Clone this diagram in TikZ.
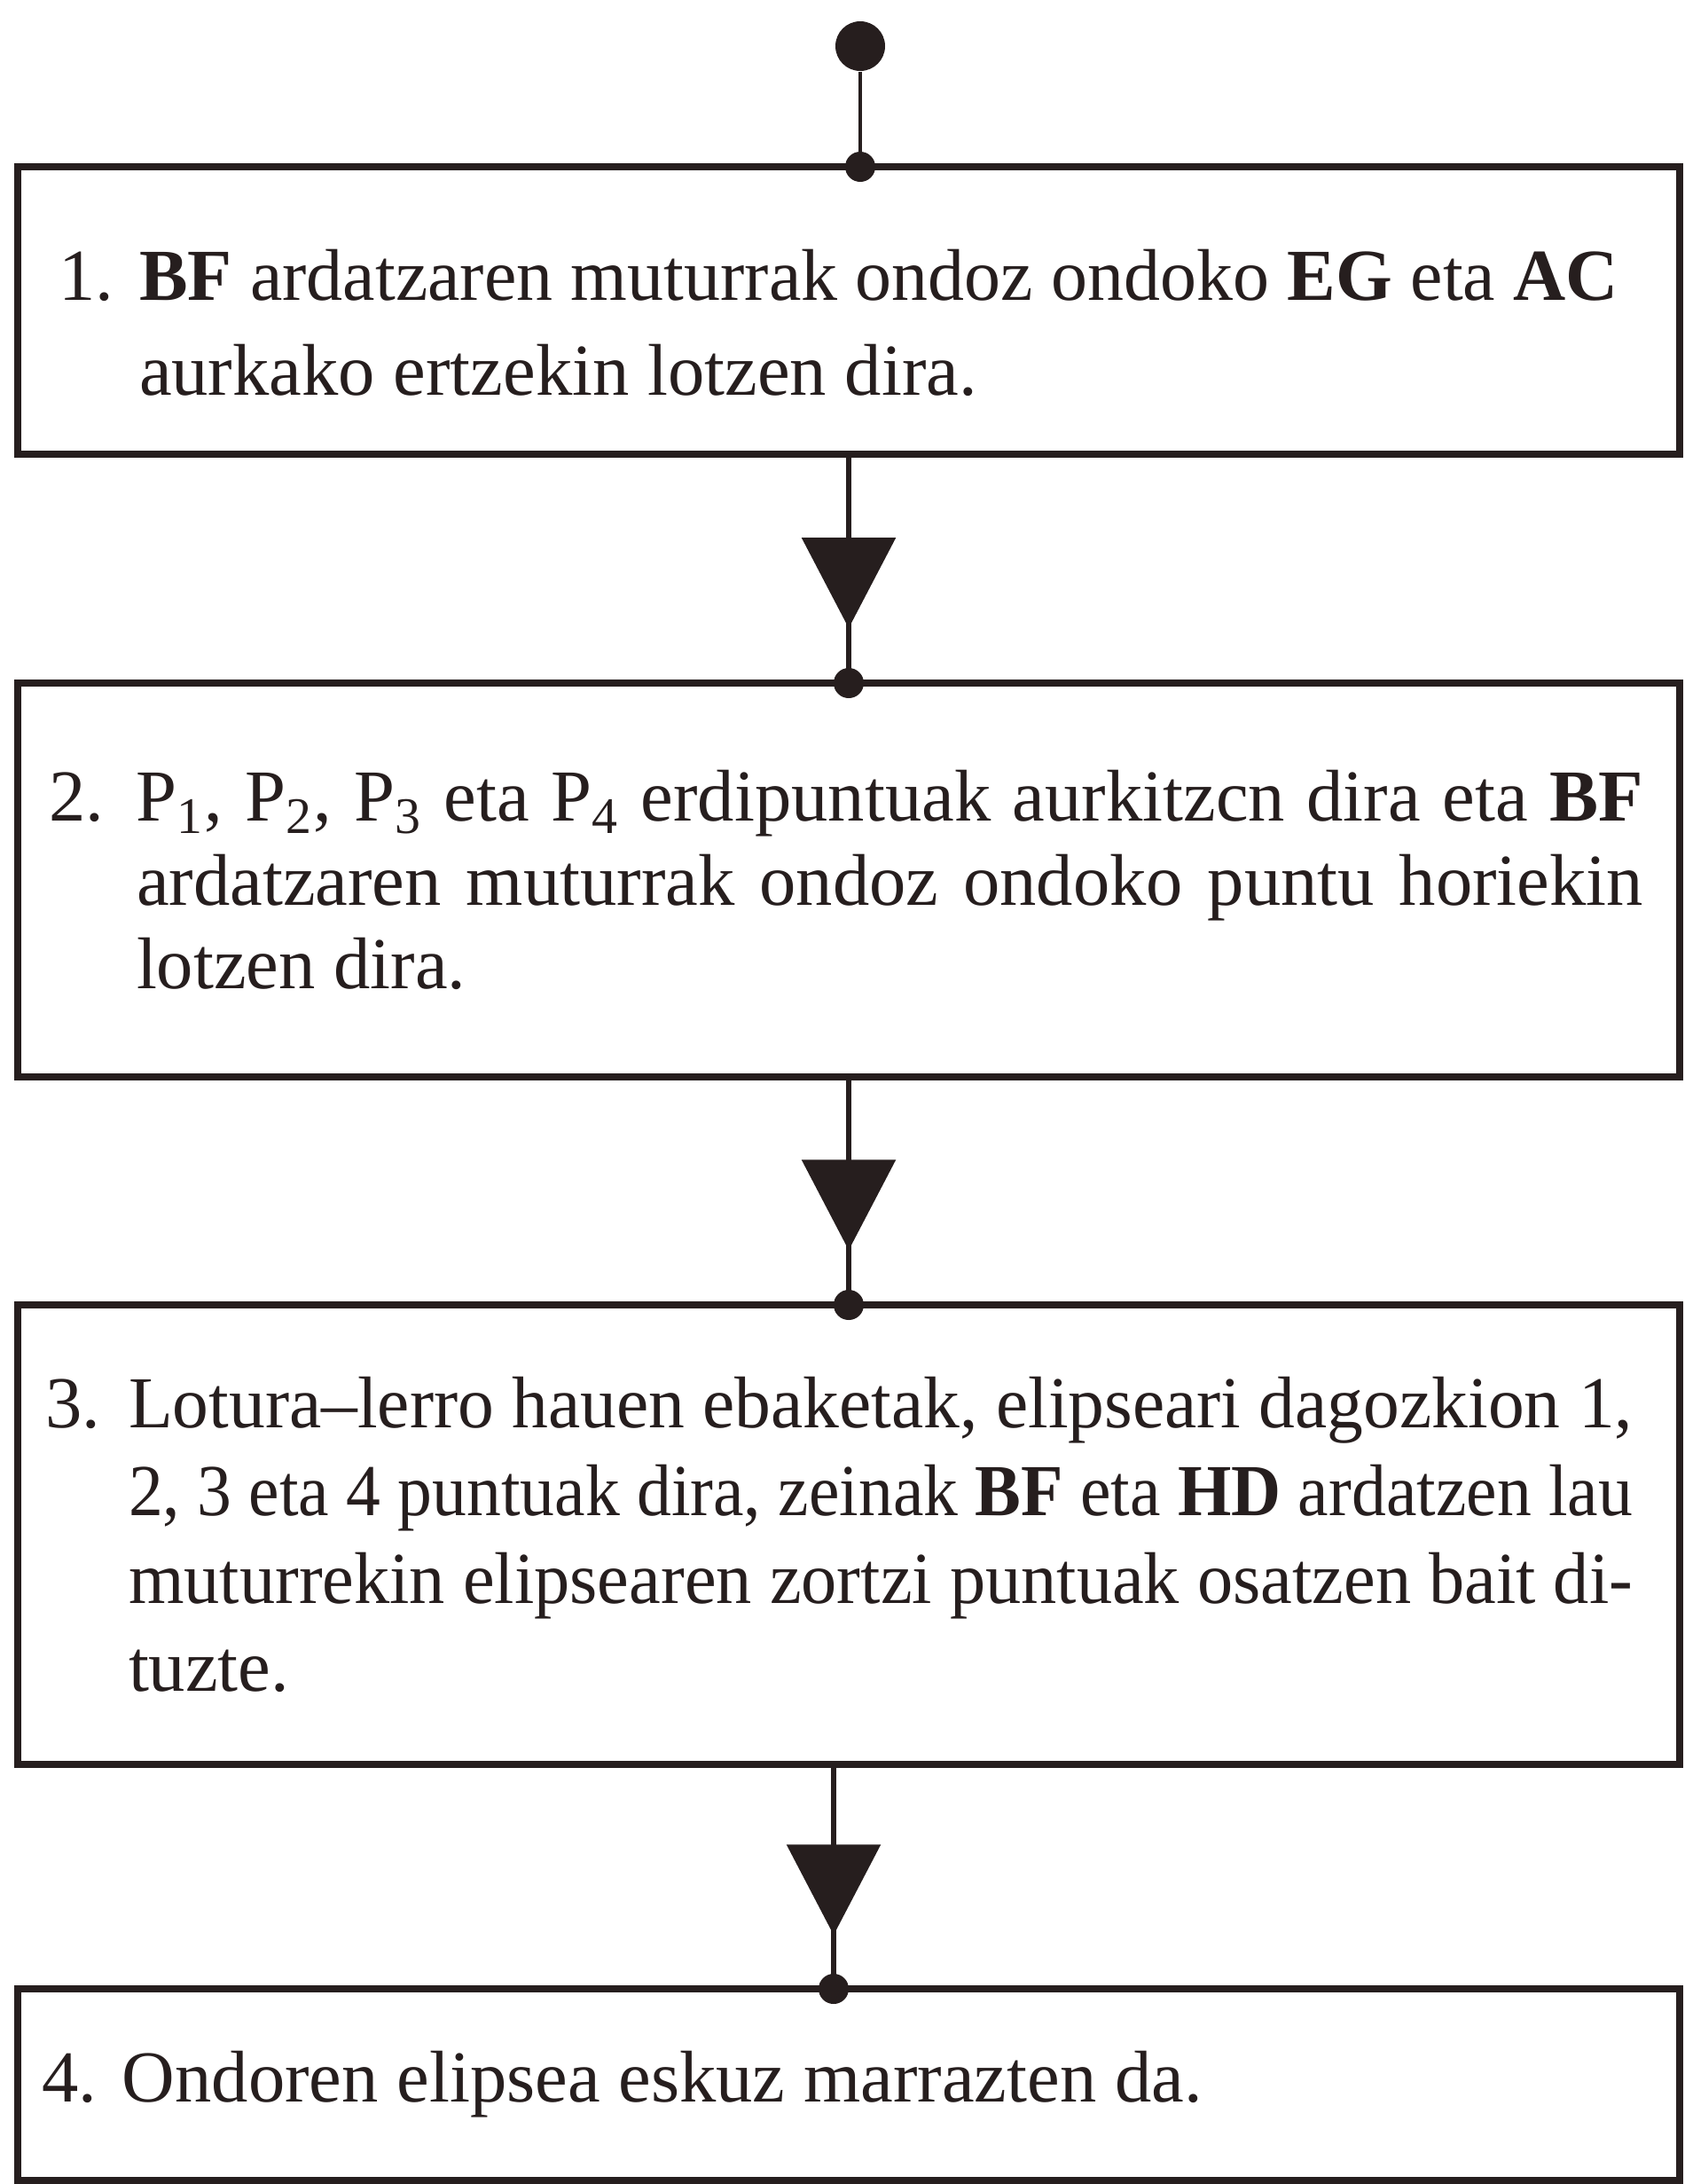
\documentclass[tikz,border=0pt]{standalone}
\usepackage{fontspec}
\setmainfont{Liberation Serif}
\usepackage{graphicx}
\usetikzlibrary{positioning,arrows.meta,decorations.markings}

\definecolor{ink}{RGB}{38,30,30}

% the font's own word spaces (align=left makes them rigid)
\newcommand\normspace{\spaceskip=0pt\xspaceskip=0pt\relax}
\newsavebox\linebox
% one justified line, squeezed when too long
\newcommand\fitline[2]{\sbox\linebox{\normspace#2}%
  \ifdim\wd\linebox>#1\relax\resizebox{#1}{\height}{\usebox\linebox}%
  \else\makebox[#1][s]{\normspace#2}\fi}

\tikzset{
  stepbox/.style={draw, line width=0.8mm, outer sep=0pt, inner ysep=0pt,
    minimum width=18.74cm, align=left},
  link/.style={line width=0.6mm, postaction={decorate},
    decoration={markings, mark=at position 0.76 with {\arrow{Triangle[length=1.02cm,width=1.05cm]}}}},
  dotmark/.style={circle, fill, inner sep=0pt, minimum size=3.4mm},
}

\begin{document}
\begin{tikzpicture}[color=ink]
\useasboundingbox (0,0) rectangle (19,-24.62);

\node[circle, fill, inner sep=0pt, minimum size=5.6mm] (start) at (9.70,-0.52) {};

\node[stepbox, anchor=north, minimum height=3.24cm, inner xsep=4.6mm, text width=17.82cm,
  font=\fontsize{23.5}{30.5}\selectfont] (box1) at (9.57,-1.88)
  {\normspace\rule{0pt}{0.85cm}\makebox[0.91cm][l]{1.}\fitline{16.68cm}{\textbf{BF} ardatzaren muturrak ondoz ondoko \textbf{EG} eta \textbf{AC}}\\
   \hspace*{0.91cm}aurkako ertzekin lotzen dira.};

\node[stepbox, below=2.58cm of box1, minimum height=4.44cm, inner xsep=3.5mm, text width=18.04cm,
  font=\fontsize{23.5}{26.8}\selectfont] (box2)
  {\normspace\makebox[0.99cm][l]{2.}\fitline{16.99cm}{P\textsubscript{1}, P\textsubscript{2}, P\textsubscript{3} eta P\textsubscript{4} erdipuntuak aurkitzcn dira eta \textbf{BF}}\\
   \hspace*{0.99cm}\fitline{16.99cm}{ardatzaren muturrak ondoz ondoko puntu horiekin}\\
   \hspace*{0.99cm}lotzen dira.};

\node[stepbox, below=2.57cm of box2, minimum height=5.18cm, inner xsep=3.1mm, text width=18.12cm,
  font=\fontsize{23.5}{28.2}\selectfont] (box3)
  {\normspace\makebox[0.94cm][l]{3.}\fitline{16.96cm}{Lotura–lerro hauen ebaketak, elipseari dagozkion 1,}\\
   \hspace*{0.94cm}\fitline{16.96cm}{2, 3 eta 4 puntuak dira, zeinak \textbf{BF} eta \textbf{HD} ardatzen lau}\\
   \hspace*{0.94cm}\fitline{16.96cm}{muturrekin elipsearen zortzi puntuak osatzen bait di-}\\
   \hspace*{0.94cm}tuzte.};

\node[stepbox, below=2.53cm of box3, minimum height=2.16cm, inner xsep=2.7mm, text width=18.20cm,
  font=\fontsize{23.5}{28}\selectfont] (box4)
  {\normspace\makebox[0.91cm][l]{4.}Ondoren elipsea eskuz marrazten da.};

\draw[line width=0.4mm] (start) -- (start |- box1.north) node[dotmark] (d1) {};
\draw[link] (box1.south) -- (box2.north) node[dotmark] (d2) {};
\draw[link] (box2.south) -- (box3.north) node[dotmark] (d3) {};
\draw[link] ([xshift=-1.7mm]box3.south) -- ([xshift=-1.7mm]box4.north) node[dotmark] (d4) {};

\end{tikzpicture}
\end{document}
